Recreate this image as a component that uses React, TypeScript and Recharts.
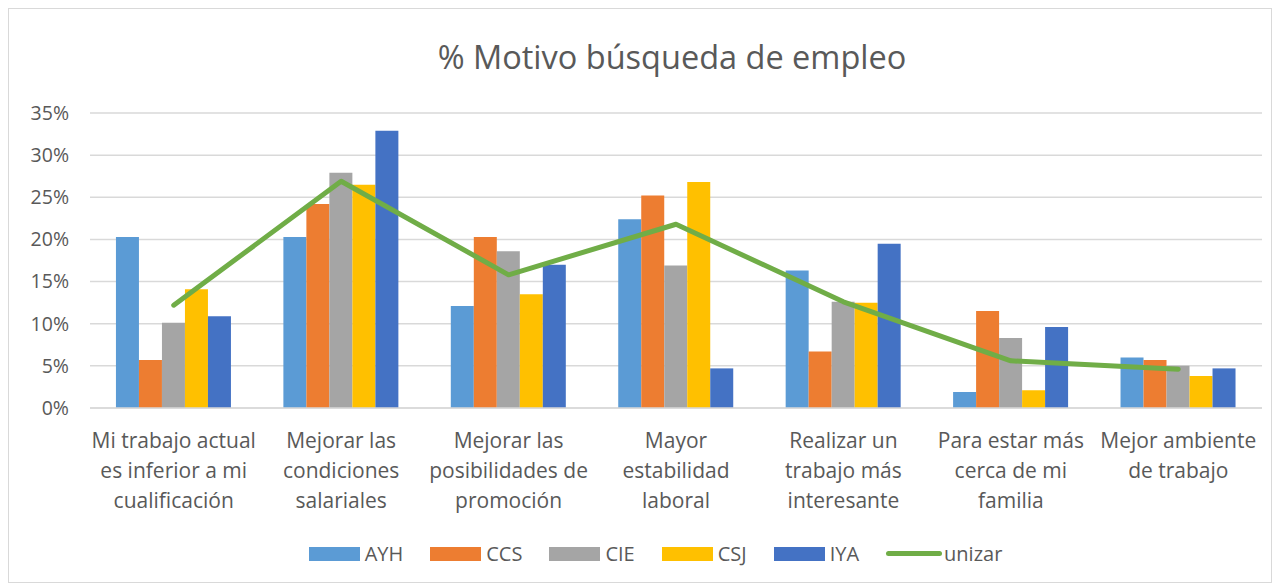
import React from 'react';
import { ComposedChart, Bar, Line, XAxis, YAxis, CartesianGrid, Legend } from 'recharts';

const categories = [
  'Mi trabajo actual\nes inferior a mi\ncualificación',
  'Mejorar las\ncondiciones\nsalariales',
  'Mejorar las\nposibilidades de\npromoción',
  'Mayor\nestabilidad\nlaboral',
  'Realizar un\ntrabajo más\ninteresante',
  'Para estar más\ncerca de mi\nfamilia',
  'Mejor ambiente\nde trabajo',
];

const ayh = [20.3, 20.3, 12.1, 22.4, 16.3, 1.9, 6.0];
const ccs = [5.7, 24.2, 20.3, 25.2, 6.7, 11.5, 5.7];
const cie = [10.1, 27.9, 18.6, 16.9, 12.6, 8.3, 5.0];
const csj = [14.1, 26.5, 13.5, 26.8, 12.5, 2.1, 3.8];
const iya = [10.9, 32.9, 17.0, 4.7, 19.5, 9.6, 4.7];
const unizar = [12.2, 26.9, 15.8, 21.8, 12.6, 5.6, 4.6];

const yTicks = [0, 5, 10, 15, 20, 25, 30, 35];

const barSeries = [
  { key: 'AYH', color: '#5B9BD5' },
  { key: 'CCS', color: '#ED7D31' },
  { key: 'CIE', color: '#A5A5A5' },
  { key: 'CSJ', color: '#FFC000' },
  { key: 'IYA', color: '#4472C4' },
];
const lineColor = '#70AD47';

const data = categories.map((name, i) => ({
  name,
  AYH: ayh[i],
  CCS: ccs[i],
  CIE: cie[i],
  CSJ: csj[i],
  IYA: iya[i],
  unizar: unizar[i],
}));

const FONT = '"Open Sans", Lato, sans-serif';
const TEXT = '#595959';

function CategoryTick(props: any) {
  const { x, y, payload } = props;
  const lines = String(payload.value).split('\n');
  return (
    <text x={x} y={y} textAnchor="middle" fill={TEXT} fontSize={21} fontFamily={FONT}>
      {lines.map((l, i) => (
        <tspan key={i} x={x} dy={i === 0 ? 40 : 30}>{l}</tspan>
      ))}
    </text>
  );
}

function ChartLegend() {
  const items = [
    ...barSeries.map((s) => ({ name: s.key, color: s.color, line: false })),
    { name: 'unizar', color: lineColor, line: true },
  ];
  return (
    <div style={{ display: 'flex', justifyContent: 'center', alignItems: 'center', marginTop: 10, paddingLeft: 40, fontFamily: FONT, fontSize: 20, color: TEXT }}>
      {items.map((it) => (
        <div key={it.name} style={{ display: 'flex', alignItems: 'center', marginRight: it.line ? 0 : 27 }}>
          {it.line ? (
            <span style={{ display: 'inline-block', width: 56, height: 5, borderRadius: 3, background: it.color, marginRight: 2 }} />
          ) : (
            <span style={{ display: 'inline-block', width: 51, height: 14, background: it.color, marginRight: 5 }} />
          )}
          <span>{it.name}</span>
        </div>
      ))}
    </div>
  );
}

export default function App() {
  return (
    <div style={{ position: 'relative', width: 1264, height: 575, border: '1px solid #d9d9d9', boxSizing: 'border-box', background: '#fff' }}>
      <div style={{ position: 'absolute', left: 64, right: 0, top: 32, textAlign: 'center', fontFamily: FONT, fontSize: 32.5, lineHeight: 1, color: TEXT }}>
        % Motivo búsqueda de empleo
      </div>
      <ComposedChart
        width={1262}
        height={573}
        data={data}
        margin={{ top: 104, right: 9, bottom: 12, left: 0 }}
        barGap={0}
        barCategoryGap="15.5%"
      >
        <CartesianGrid vertical={false} stroke="#d9d9d9" strokeWidth={1.5} />
        <XAxis
          dataKey="name"
          interval={0}
          height={122}
          tickLine={false}
          tickSize={0}
          tickMargin={0}
          axisLine={{ stroke: '#d9d9d9', strokeWidth: 1.5 }}
          tick={<CategoryTick />}
        />
        <YAxis
          width={81}
          domain={[0, 35]}
          ticks={yTicks}
          interval={0}
          axisLine={false}
          tickLine={false}
          tickSize={0}
          tickMargin={21}
          tickFormatter={(v: number) => `${v}%`}
          tick={{ fill: TEXT, fontSize: 19.5, fontFamily: FONT }}
        />
        {barSeries.map((s) => (
          <Bar key={s.key} dataKey={s.key} fill={s.color} isAnimationActive={false} />
        ))}
        <Line
          dataKey="unizar"
          type="linear"
          stroke={lineColor}
          strokeWidth={5}
          strokeLinecap="round"
          strokeLinejoin="round"
          dot={false}
          isAnimationActive={false}
        />
        <Legend verticalAlign="bottom" height={40} content={<ChartLegend />} />
      </ComposedChart>
    </div>
  );
}
